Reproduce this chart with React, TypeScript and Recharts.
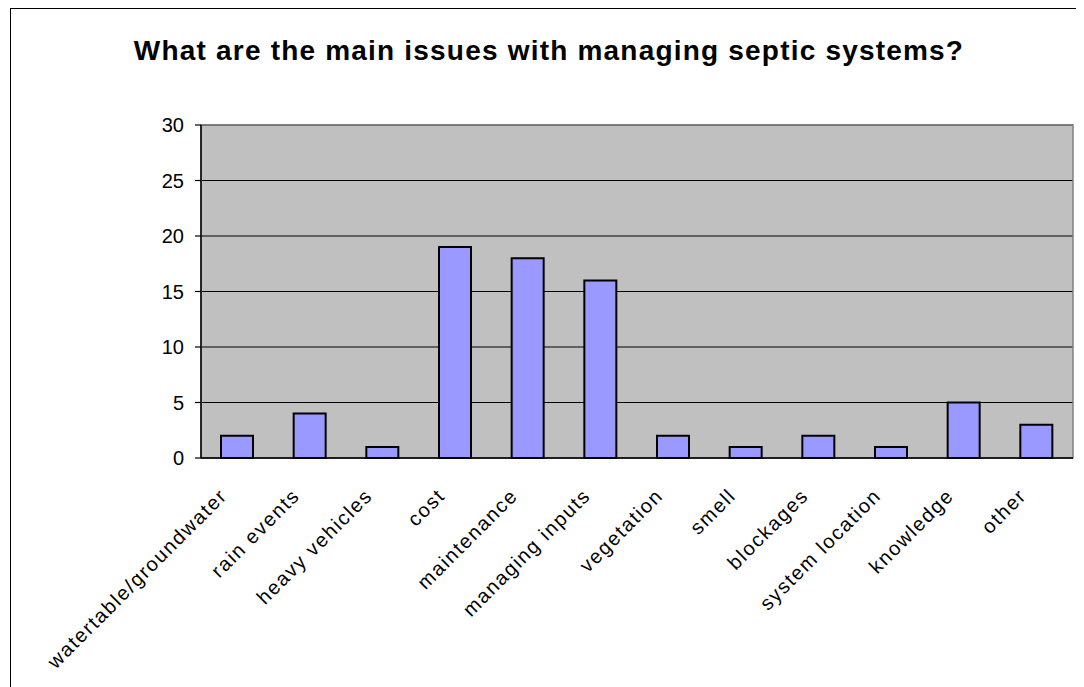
import React from 'react'
import {
  Bar,
  BarChart,
  CartesianGrid,
  ReferenceArea,
  XAxis,
  YAxis,
} from 'recharts'

const CATEGORIES = [
  'watertable/groundwater',
  'rain events',
  'heavy vehicles',
  'cost',
  'maintenance',
  'managing inputs',
  'vegetation',
  'smell',
  'blockages',
  'system location',
  'knowledge',
  'other',
]
const RESPONSES = [2, 4, 1, 19, 18, 16, 2, 1, 2, 1, 5, 3]
const Y_TICKS = [0, 5, 10, 15, 20, 25, 30]
// category boundaries, used for the tick marks between bars
const EDGE_TICKS = CATEGORIES.map((_, i) => i).concat(CATEGORIES.length)

const TITLE = 'What are the main issues with managing septic systems?'
const FONT = '"Liberation Sans", Arial, Helvetica, sans-serif'

const data = CATEGORIES.map((name, i) => ({ name, value: RESPONSES[i] }))

function SlantedTick({ x, y, payload }: any) {
  const ax = x - 9
  const ay = y + 31
  return (
    <text
      x={ax}
      y={ay}
      transform={`rotate(-45, ${ax}, ${ay})`}
      textAnchor="end"
      fontFamily={FONT}
      fontSize={20}
      letterSpacing={1.6}
      fill="#000"
    >
      {payload.value}
    </text>
  )
}

function HiddenTick() {
  return <g />
}

export default function App() {
  return (
    <div
      style={{
        position: 'relative',
        marginLeft: 2,
        width: 1074,
        height: 679,
        boxSizing: 'border-box',
        borderTop: '1px solid #000',
        borderLeft: '1px solid #000',
        background: '#fff',
      }}
    >
      <div
        style={{
          position: 'absolute',
          left: 0,
          width: 1076,
          top: 26,
          textAlign: 'center',
          fontFamily: FONT,
          fontWeight: 'bold',
          fontSize: 28,
          letterSpacing: 1.2,
          color: '#000',
          whiteSpace: 'nowrap',
        }}
      >
        {TITLE}
      </div>
      <BarChart
        width={1073}
        height={678}
        data={data}
        margin={{ top: 116, right: 11, bottom: 0, left: 0 }}
        barSize={32}
      >
        <CartesianGrid
          vertical={false}
          fill="#C0C0C0"
          fillOpacity={1}
          stroke="#000"
          strokeWidth={1.2}
        />
        <XAxis
          xAxisId="edges"
          type="number"
          domain={[0, CATEGORIES.length]}
          ticks={EDGE_TICKS}
          interval={0}
          height={0}
          axisLine={false}
          tickLine={{ stroke: '#000', strokeWidth: 1.2 }}
          tickSize={6}
          tick={<HiddenTick />}
        />
        <XAxis
          dataKey="name"
          interval={0}
          height={229}
          tickLine={false}
          axisLine={{ stroke: '#000', strokeWidth: 1.5 }}
          tick={<SlantedTick />}
        />
        <YAxis
          width={190}
          domain={[0, 30]}
          ticks={Y_TICKS}
          interval={0}
          tickSize={6}
          tickMargin={11}
          axisLine={{ stroke: '#000', strokeWidth: 1.5 }}
          tickLine={{ stroke: '#000', strokeWidth: 1.2 }}
          tick={{ fill: '#000', fontSize: 20, fontFamily: FONT }}
        />
        <ReferenceArea
          y1={0}
          y2={30}
          fill="none"
          stroke="#808080"
          strokeWidth={1.5}
          ifOverflow="visible"
        />
        <Bar
          dataKey="value"
          fill="#9999FF"
          stroke="#000"
          strokeWidth={2}
          isAnimationActive={false}
        />
      </BarChart>
    </div>
  )
}
